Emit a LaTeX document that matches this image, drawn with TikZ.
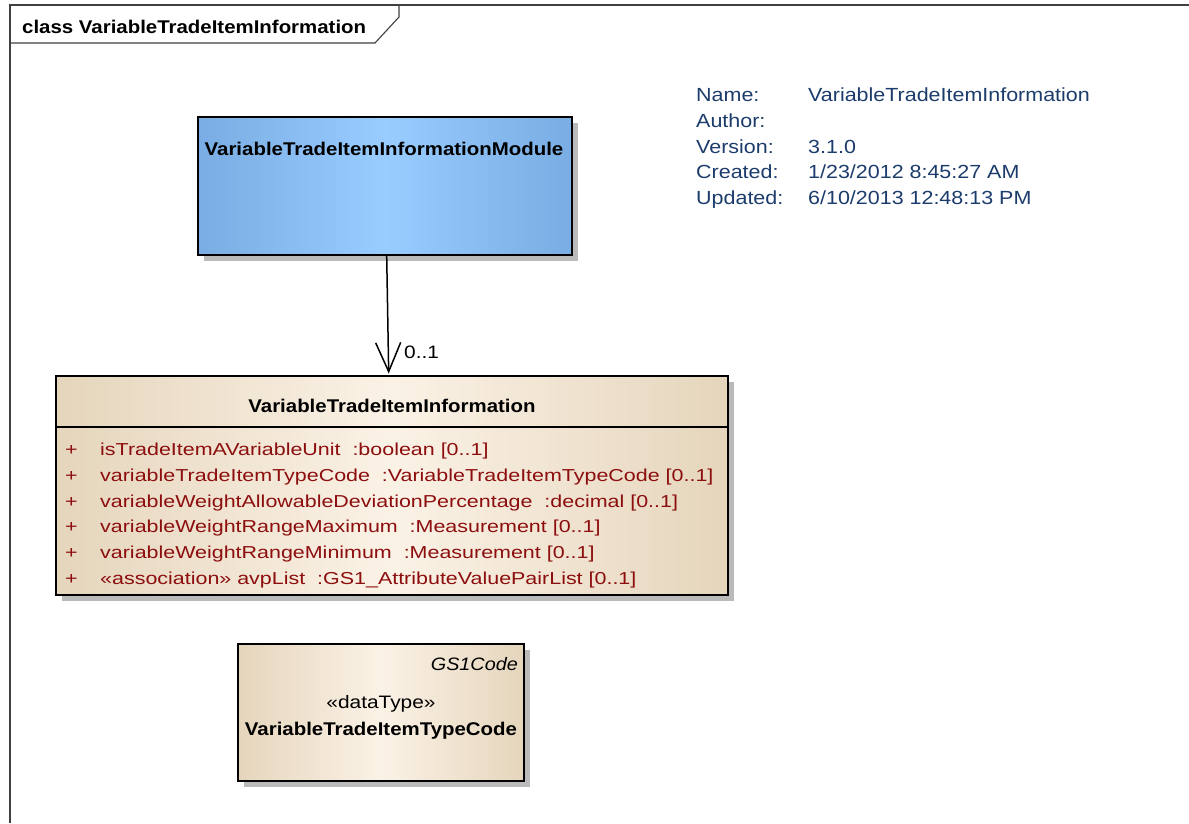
\documentclass[tikz,border=0pt]{standalone}
\usepackage{fontspec}
\setmainfont{Liberation Sans}
\newfontfamily\attrf[FakeStretch=1.24]{Liberation Sans}
\newfontfamily\infof[FakeStretch=1.13]{Liberation Sans}
\newfontfamily\boldf[FakeStretch=1.11]{Liberation Sans Bold}
\newfontfamily\italf[FakeStretch=1.1]{Liberation Sans Italic}
\newfontfamily\stf[FakeStretch=1.16]{Liberation Sans}
\usetikzlibrary{arrows.meta,shadows,calc}
\definecolor{blueE}{RGB}{121,173,227}
\definecolor{blueC}{RGB}{153,204,255}
\definecolor{begE}{RGB}{229,213,188}
\definecolor{begC}{RGB}{251,242,230}
\definecolor{attrc}{RGB}{140,14,14}
\definecolor{infoc}{RGB}{28,60,108}
\begin{document}
\begin{tikzpicture}[x=1pt,y=-1pt,
  umlbox/.style={draw=black, line width=2pt, inner sep=0pt, anchor=north west,
    drop shadow={shadow xshift=6pt,shadow yshift=-6pt,fill=black!27,opacity=1}},
  bluebox/.style={umlbox, left color=blueE, right color=blueE, middle color=blueC},
  begbox/.style={umlbox, left color=begE, right color=begE, middle color=begC},
  txt/.style={inner sep=0pt, anchor=base west},
  attr/.style={txt, text=attrc, font=\attrf\fontsize{17.3}{20}\selectfont},
  info/.style={txt, text=infoc, font=\infof\fontsize{19}{20}\selectfont},
  btitle/.style={inner sep=0pt, anchor=base, font=\boldf\fontsize{18.4}{20}\selectfont},
  frameline/.style={draw=black!75, line width=1.1pt}
]
\useasboundingbox (0,0) rectangle (1189,823);
\fill[white] (0,0) rectangle (1189,823);

% frame
\draw[frameline] (10,823) -- (10,5) -- (1189,5);
\draw[frameline] (10,43) -- (375,43) -- (399,17) -- (399,5);
\node[txt, font=\boldf\fontsize{18.4}{20}\selectfont] (ftitle) at (22,33) {class VariableTradeItemInformation};

% module box
\node[bluebox, minimum width=374pt, minimum height=138pt] (mod) at (197,116) {};
\node[btitle] (modt) at (384,155) {VariableTradeItemInformationModule};

% class box
\node[begbox, minimum width=672pt, minimum height=219pt] (cls) at (55,375) {};
\draw[line width=2pt] ($(cls.north west)+(0,52)$) coordinate (dl) -- ($(cls.north east)+(0,52)$) coordinate (dr);
\node[btitle] (clst) at (392,412) {VariableTradeItemInformation};

\foreach \i/\t in {0/{isTradeItemAVariableUnit\ \ :boolean [0..1]},
  1/{variableTradeItemTypeCode\ \ :VariableTradeItemTypeCode [0..1]},
  2/{variableWeightAllowableDeviationPercentage\ \ :decimal [0..1]},
  3/{variableWeightRangeMaximum\ \ :Measurement [0..1]},
  4/{variableWeightRangeMinimum\ \ :Measurement [0..1]},
  5/{«association» avpList\ \ :GS1\_AttributeValuePairList [0..1]}} {
  \node[attr] (p\i) at (65,455.5+25.8*\i) {+};
  \node[attr] (a\i) at (100,455.5+25.8*\i) {\t};
}

% datatype box
\node[begbox, minimum width=286pt, minimum height=137pt] (dt) at (237,643) {};
\node[inner sep=0pt, anchor=base east, font=\italf\fontsize{18}{20}\selectfont] (dtg) at (518,670) {GS1Code};
\node[inner sep=0pt, anchor=base, font=\stf\fontsize{18}{20}\selectfont] (dts) at (381,708) {«dataType»};
\node[btitle] (dtn) at (381,735) {VariableTradeItemTypeCode};

% association
\draw[line width=1.5pt, -{Straight Barb[length=29pt,width=25pt,line width=1.5pt]}]
  ($(mod.south)+(1.7,0)$) -- ($(cls.north)+(-3.3,-1.5)$);
\node[txt, font=\stf\fontsize{18}{20}\selectfont] (mult) at (404,358) {0..1};

% info
\foreach \i/\l/\v in {0/Name:/VariableTradeItemInformation, 1/Author:/{}, 2/Version:/3.1.0,
  3/Created:/{1/23/2012 8:45:27 AM}, 4/Updated:/{6/10/2013 12:48:13 PM}} {
  \node[info] (il\i) at (696,101.7+25.7*\i) {\l};
  \node[info] (iv\i) at (808,101.7+25.7*\i) {\v};
}
\end{tikzpicture}
\end{document}
